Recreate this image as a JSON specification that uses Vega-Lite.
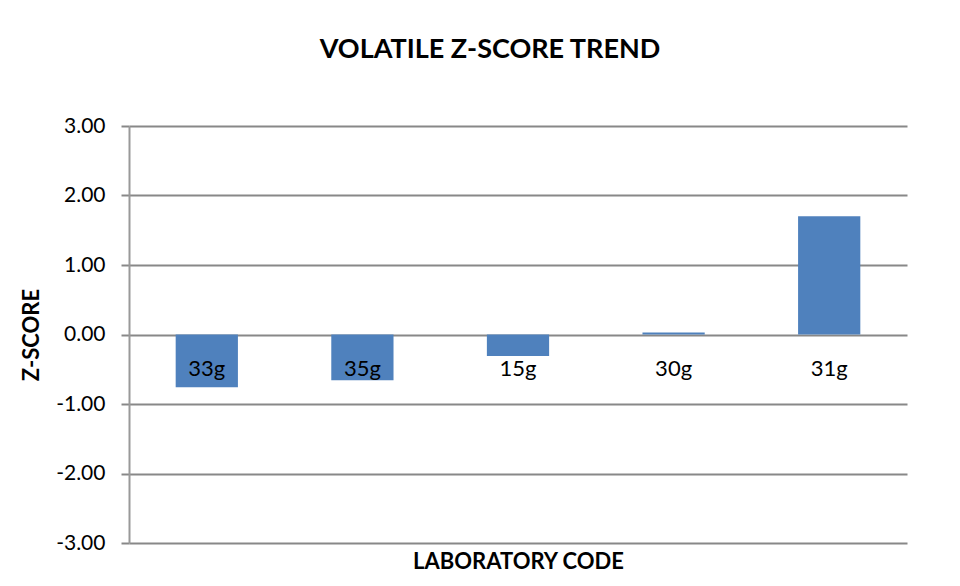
{
  "$schema": "https://vega.github.io/schema/vega-lite/v6.json",
  "width": 778,
  "height": 417,
  "autosize": {"type": "none"},
  "padding": {"left": 129, "top": 126, "right": 53, "bottom": 43},
  "background": "white",
  "config": {
    "view": {"stroke": null},
    "font": "Lato",
    "axis": {"labelFont": "Lato", "titleFont": "Lato"}
  },
  "title": {
    "text": "VOLATILE Z-SCORE TREND",
    "font": "Lato",
    "fontSize": 27,
    "fontWeight": "bold",
    "color": "black",
    "anchor": "middle",
    "dx": -28,
    "offset": 51
  },
  "data": {
    "values": [
      {"lab": "33g", "z": -0.76},
      {"lab": "35g", "z": -0.66},
      {"lab": "15g", "z": -0.31},
      {"lab": "30g", "z": 0.03},
      {"lab": "31g", "z": 1.70}
    ]
  },
  "encoding": {
    "x": {
      "field": "lab",
      "type": "nominal",
      "sort": null,
      "scale": {"paddingInner": 0.6, "paddingOuter": 0.3},
      "axis": {
        "title": "LABORATORY CODE",
        "titleFontSize": 22,
        "titleFontWeight": "bold",
        "titleColor": "black",
        "titlePadding": 8,
        "labels": false,
        "ticks": false,
        "domain": false
      }
    }
  },
  "layer": [
    {
      "mark": {"type": "bar", "color": "#4F81BD"},
      "encoding": {
        "y": {
          "field": "z",
          "type": "quantitative",
          "scale": {"domain": [-3, 3], "nice": false, "zero": true},
          "axis": {
            "title": "Z-SCORE",
            "titleFontSize": 22,
            "titleFontWeight": "bold",
            "titleColor": "black",
            "titlePadding": 12,
            "values": [-3, -2, -1, 0, 1, 2, 3],
            "format": ".2f",
            "labelExpr": "replace(datum.label, '\u2212', '-')",
            "labelFontSize": 21,
            "labelColor": "black",
            "labelPadding": 16,
            "tickSize": 8,
            "tickColor": "#888888",
            "tickWidth": 2,
            "domainColor": "#999999",
            "domainWidth": 2,
            "gridColor": "#888888",
            "gridWidth": 2,
            "gridOpacity": 1
          }
        }
      }
    },
    {
      "mark": {"type": "text", "fontSize": 22, "color": "black", "baseline": "middle", "align": "center"},
      "encoding": {
        "y": {"datum": -0.5, "type": "quantitative"},
        "text": {"field": "lab"}
      }
    }
  ]
}
